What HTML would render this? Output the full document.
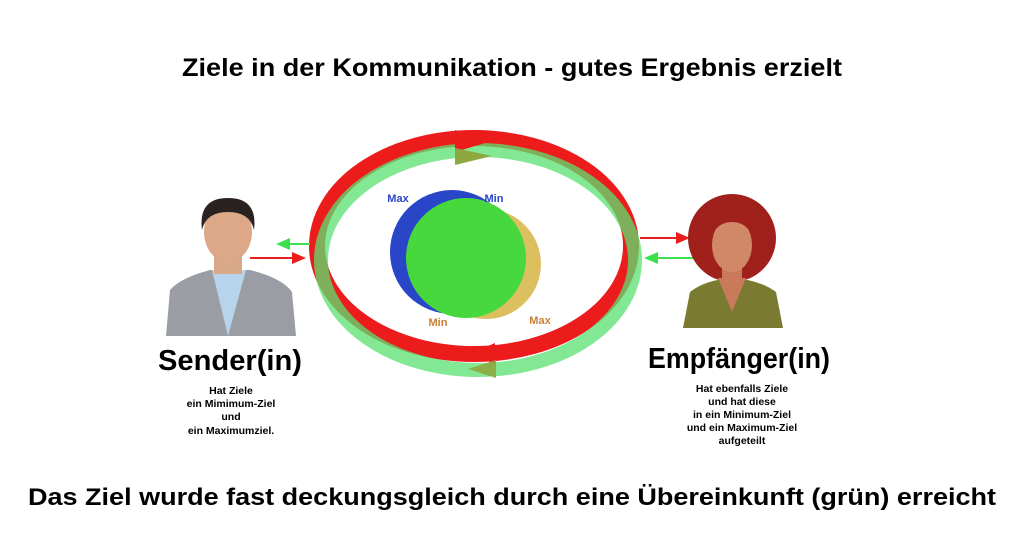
<!DOCTYPE html>
<html><head><meta charset="utf-8"><style>
html,body{margin:0;padding:0;background:#fff;width:1024px;height:535px;overflow:hidden}
svg{display:block}
text{font-family:"Liberation Sans",Arial,sans-serif;font-weight:bold}
</style></head><body>
<svg width="1024" height="535" viewBox="0 0 1024 535" xmlns="http://www.w3.org/2000/svg">
<rect width="1024" height="535" fill="#fff"/>
<text x="512" y="76" text-anchor="middle" font-size="25" textLength="660" lengthAdjust="spacingAndGlyphs" fill="#000">Ziele in der Kommunikation - gutes Ergebnis erzielt</text>

<!-- circles -->
<circle cx="486" cy="264" r="55" fill="#dcc060"/>
<circle cx="452" cy="252" r="62" fill="#2a46c8"/>
<circle cx="466" cy="258" r="60" fill="#46d83c"/>
<text x="398" y="202" font-size="11" fill="#2a46c8" text-anchor="middle">Max</text>
<text x="494" y="202" font-size="11" fill="#2a46c8" text-anchor="middle">Min</text>
<text x="438" y="326" font-size="11" fill="#c88038" text-anchor="middle">Min</text>
<text x="540" y="324" font-size="11" fill="#c88038" text-anchor="middle">Max</text>

<!-- ellipses -->
<ellipse cx="474" cy="246" rx="157" ry="108" fill="none" stroke="#ec1c1c" stroke-width="16"/>
<ellipse cx="478" cy="260" rx="157" ry="110" fill="none" stroke="#5ae070" stroke-width="14" opacity="0.75"/>
<!-- arrowheads -->
<polygon points="455,130 492,141 455,152" fill="#ec1c1c"/>
<polygon points="455,148 492,156 455,165" fill="#8ea840"/>
<polygon points="495,343 470,354 495,364" fill="#ec1c1c"/>
<polygon points="496,360 468,369 496,378" fill="#8ea840" opacity="0.9"/>

<!-- side arrows -->
<line x1="310" y1="244" x2="282" y2="244" stroke="#3ce04c" stroke-width="2"/>
<polygon points="276,244 290,238 290,250" fill="#3ce04c"/>
<line x1="250" y1="258" x2="298" y2="258" stroke="#ec1c1c" stroke-width="2"/>
<polygon points="306,258 292,252 292,264" fill="#ec1c1c"/>
<line x1="640" y1="238" x2="682" y2="238" stroke="#ec1c1c" stroke-width="2"/>
<polygon points="690,238 676,232 676,244" fill="#ec1c1c"/>
<line x1="712" y1="258" x2="652" y2="258" stroke="#3ce04c" stroke-width="2"/>
<polygon points="644,258 658,252 658,264" fill="#3ce04c"/>

<!-- man -->
<path d="M166,336 L170,290 Q180,278 210,270 L250,270 Q282,278 292,292 L296,336 Z" fill="#9a9ea4"/>
<path d="M212,270 L228,336 L246,270 Z" fill="#b8d4ec"/>
<rect x="214" y="250" width="28" height="24" fill="#d8a888"/>
<ellipse cx="228" cy="232" rx="24" ry="30" fill="#dca888"/>
<path d="M202,230 Q198,198 228,198 Q258,198 254,230 Q250,212 228,212 Q206,212 202,230 Z" fill="#2a2220"/>

<!-- woman -->
<ellipse cx="732" cy="238" rx="44" ry="44" fill="#a0201c"/>
<path d="M683,328 L690,292 Q705,280 732,278 Q760,280 776,292 L783,328 Z" fill="#7a7a30"/>
<path d="M718,278 L732,312 L746,278 Z" fill="#c87a5a"/>
<rect x="722" y="262" width="20" height="20" fill="#c87a5a"/>
<ellipse cx="732" cy="245" rx="20" ry="27" fill="#d08866"/>
<path d="M710,240 Q712,212 732,212 Q752,212 754,240 Q748,222 732,222 Q716,222 710,240 Z" fill="#a0201c"/>

<text x="230" y="370" text-anchor="middle" font-size="29" textLength="144" lengthAdjust="spacingAndGlyphs">Sender(in)</text>
<text x="231" y="394" text-anchor="middle" font-size="10.5">Hat Ziele</text>
<text x="231" y="407" text-anchor="middle" font-size="10.5">ein Mimimum-Ziel</text>
<text x="231" y="420" text-anchor="middle" font-size="10.5">und</text>
<text x="231" y="434" text-anchor="middle" font-size="10.5">ein Maximumziel.</text>

<text x="739" y="368" text-anchor="middle" font-size="29" textLength="182" lengthAdjust="spacingAndGlyphs">Empfänger(in)</text>
<text x="742" y="392" text-anchor="middle" font-size="10.5">Hat ebenfalls Ziele</text>
<text x="742" y="405" text-anchor="middle" font-size="10.5">und hat diese</text>
<text x="742" y="418" text-anchor="middle" font-size="10.5">in ein Minimum-Ziel</text>
<text x="742" y="431" text-anchor="middle" font-size="10.5">und ein Maximum-Ziel</text>
<text x="742" y="444" text-anchor="middle" font-size="10.5">aufgeteilt</text>

<text x="512" y="505" text-anchor="middle" font-size="24" textLength="968" lengthAdjust="spacingAndGlyphs">Das Ziel wurde fast deckungsgleich durch eine Übereinkunft (grün) erreicht</text>
</svg>
</body></html>
